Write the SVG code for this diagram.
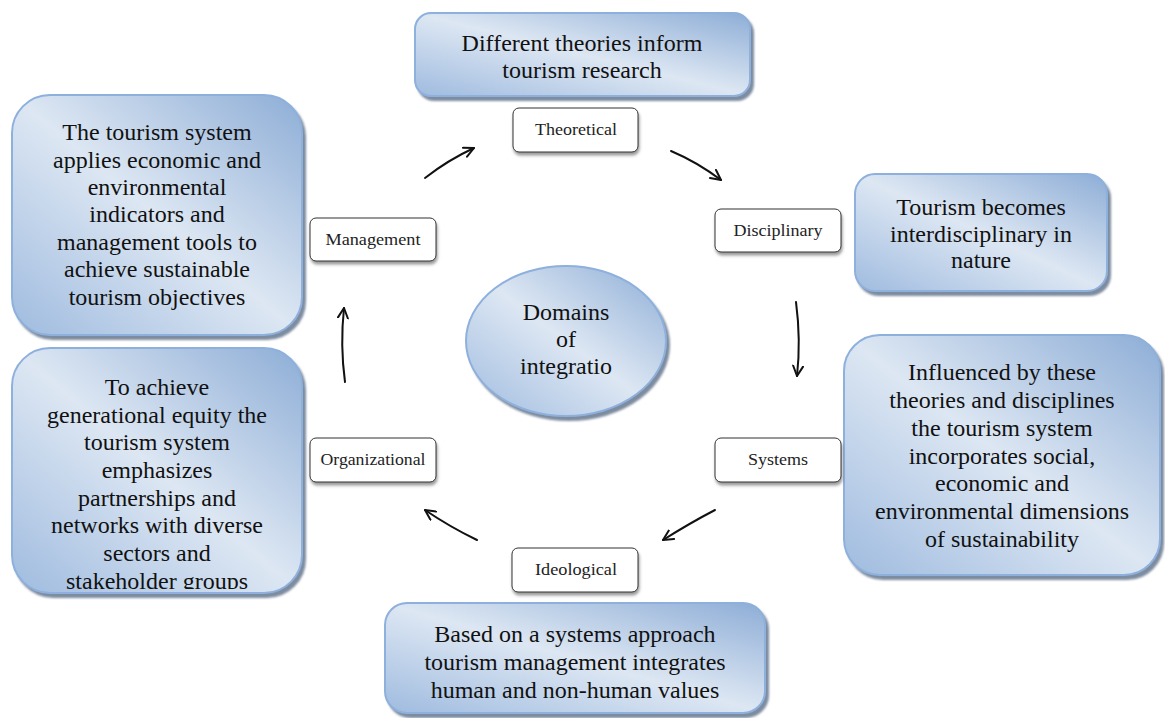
<svg xmlns="http://www.w3.org/2000/svg" width="1165" height="718" viewBox="0 0 1165 718">
<style>
.big{stroke:#8db0dc;stroke-width:2;fill:url(#g);filter:url(#sh)}
.small{fill:#fff;stroke:#333;stroke-width:1;filter:url(#sh2)}
.bt{font-family:"Liberation Serif","Times New Roman","DejaVu Serif",serif;font-size:24px;fill:#111;text-anchor:middle}
.st{font-family:"Liberation Serif","Times New Roman","DejaVu Serif",serif;font-size:16px;fill:#222;text-anchor:middle}
.ar{fill:none;stroke:#111;stroke-width:2;stroke-linecap:round;marker-end:url(#ah)}
</style>
<defs>
<linearGradient id="g" x1="1" y1="0" x2="0" y2="1">
<stop offset="0" stop-color="#8dadd6"/>
<stop offset="0.5" stop-color="#dde7f3"/>
<stop offset="1" stop-color="#9fbbdf"/>
</linearGradient>
<filter id="sh" x="-10%" y="-10%" width="130%" height="130%">
<feDropShadow dx="3" dy="4" stdDeviation="1" flood-color="#6f7f96" flood-opacity="0.9"/>
</filter>
<filter id="sh2" x="-10%" y="-10%" width="130%" height="140%">
<feDropShadow dx="1" dy="3" stdDeviation="1.5" flood-color="#555" flood-opacity="0.6"/>
</filter>
<marker id="ah" viewBox="0 0 12 12" refX="11" refY="6" markerWidth="12" markerHeight="12" markerUnits="userSpaceOnUse" orient="auto">
<path d="M1,1 L11,6 L1,11" fill="none" stroke="#111" stroke-width="2" stroke-linecap="round" stroke-linejoin="round"/>
</marker>
<clipPath id="clipLB"><rect x="0" y="340" width="320" height="249"/></clipPath>
<clipPath id="clipEl"><rect x="440" y="260" width="260" height="119"/></clipPath>
</defs>

<g id="connectors">
<path class="ar" d="M425,178 Q448,160 474,148"/>
<path class="ar" d="M671,151 Q697,162 721,180"/>
<path class="ar" d="M796,302 Q801,340 797,376"/>
<path class="ar" d="M715,510 Q690,523 663,540"/>
<path class="ar" d="M477,540 Q450,527 425,510"/>
<path class="ar" d="M345,382 Q340,345 344,308"/>
</g>

<g id="top-box">
<rect class="big" x="415" y="13" width="335" height="83" rx="16"/>
<text class="bt" x="582" y="51">Different theories inform</text>
<text class="bt" x="582" y="78">tourism research</text>
</g>

<g id="left-top-box">
<rect class="big" x="12" y="95" width="290" height="240" rx="38"/>
<text class="bt" x="157" y="140">The tourism system</text>
<text class="bt" x="157" y="168">applies economic and</text>
<text class="bt" x="157" y="195">environmental</text>
<text class="bt" x="157" y="222">indicators and</text>
<text class="bt" x="157" y="250">management tools to</text>
<text class="bt" x="157" y="277">achieve sustainable</text>
<text class="bt" x="157" y="305">tourism objectives</text>
</g>

<g id="left-bottom-box">
<rect class="big" x="12" y="348" width="290" height="245" rx="38"/>
<g clip-path="url(#clipLB)">
<text class="bt" x="157" y="395">To achieve</text>
<text class="bt" x="157" y="423">generational equity the</text>
<text class="bt" x="157" y="450">tourism system</text>
<text class="bt" x="157" y="478">emphasizes</text>
<text class="bt" x="157" y="506">partnerships and</text>
<text class="bt" x="157" y="533">networks with diverse</text>
<text class="bt" x="157" y="561">sectors and</text>
<text class="bt" x="157" y="589">stakeholder groups</text>
</g>
</g>

<g id="right-top-box">
<rect class="big" x="855" y="174" width="252" height="117" rx="20"/>
<text class="bt" x="981" y="215">Tourism becomes</text>
<text class="bt" x="981" y="242">interdisciplinary in</text>
<text class="bt" x="981" y="268">nature</text>
</g>

<g id="right-bottom-box">
<rect class="big" x="844" y="335" width="316" height="240" rx="36"/>
<text class="bt" x="1002" y="380">Influenced by these</text>
<text class="bt" x="1002" y="408">theories and disciplines</text>
<text class="bt" x="1002" y="436">the tourism system</text>
<text class="bt" x="1002" y="464">incorporates social,</text>
<text class="bt" x="1002" y="491">economic and</text>
<text class="bt" x="1002" y="519">environmental dimensions</text>
<text class="bt" x="1002" y="547">of sustainability</text>
</g>

<g id="bottom-box">
<rect class="big" x="385" y="603" width="380" height="110" rx="22"/>
<text class="bt" x="575" y="642">Based on a systems approach</text>
<text class="bt" x="575" y="670">tourism management integrates</text>
<text class="bt" x="575" y="698">human and non-human values</text>
</g>

<g id="center">
<ellipse cx="566" cy="341" rx="100" ry="75" style="stroke:#8db0dc;stroke-width:2;fill:url(#g);filter:url(#sh)"/>
<g clip-path="url(#clipEl)">
<text class="bt" x="566" y="320">Domains</text>
<text class="bt" x="566" y="347">of</text>
<text class="bt" x="566" y="374">integratio</text>
</g>
</g>

<g id="theoretical">
<rect class="small" x="513" y="108" width="125" height="44" rx="6"/>
<text class="st" x="576" y="135" textLength="82" lengthAdjust="spacingAndGlyphs">Theoretical</text>
</g>
<g id="disciplinary">
<rect class="small" x="715" y="209" width="126" height="43" rx="6"/>
<text class="st" x="778" y="236" textLength="89" lengthAdjust="spacingAndGlyphs">Disciplinary</text>
</g>
<g id="systems">
<rect class="small" x="715" y="438" width="126" height="44" rx="6"/>
<text class="st" x="778" y="465" textLength="60" lengthAdjust="spacingAndGlyphs">Systems</text>
</g>
<g id="ideological">
<rect class="small" x="512" y="548" width="126" height="44" rx="6"/>
<text class="st" x="576" y="575" textLength="82" lengthAdjust="spacingAndGlyphs">Ideological</text>
</g>
<g id="organizational">
<rect class="small" x="310" y="438" width="126" height="44" rx="6"/>
<text class="st" x="373" y="465" textLength="105" lengthAdjust="spacingAndGlyphs">Organizational</text>
</g>
<g id="management">
<rect class="small" x="310" y="218" width="126" height="43" rx="6"/>
<text class="st" x="373" y="245" textLength="95" lengthAdjust="spacingAndGlyphs">Management</text>
</g>
</svg>
